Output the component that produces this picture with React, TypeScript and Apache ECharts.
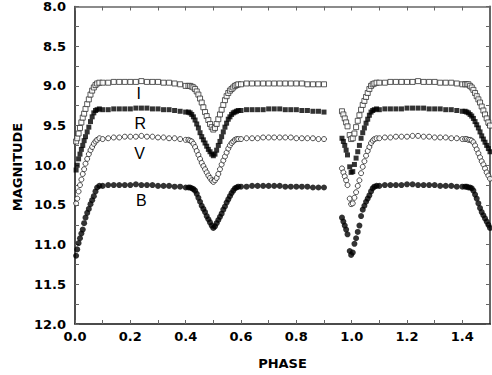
import React, { useEffect, useRef } from "react";
import * as echarts from "echarts";

// Orbital phase of each observation (shared by the four bands)
const PHASE = [
  0.004, 0.008, 0.013, 0.018, 0.023, 0.028, 0.033, 0.038, 0.044, 0.05, 0.056, 0.062, 0.068, 0.074, 0.08, 0.088,
  0.10, 0.12, 0.14, 0.16, 0.18, 0.20, 0.22, 0.24, 0.26, 0.28, 0.30, 0.32, 0.34, 0.36, 0.38, 0.40,
  0.41, 0.416, 0.422, 0.428, 0.434, 0.44, 0.446, 0.452, 0.458, 0.464, 0.47, 0.476, 0.482, 0.488, 0.494, 0.50,
  0.506, 0.512, 0.518, 0.524, 0.53, 0.536, 0.542, 0.548, 0.554, 0.56, 0.566, 0.572, 0.578, 0.584, 0.59,
  0.60, 0.62, 0.64, 0.66, 0.68, 0.70, 0.72, 0.74, 0.76, 0.78, 0.80, 0.82, 0.84, 0.86, 0.88, 0.90,
  0.965, 0.97, 0.975, 0.98, 0.985, 0.993, 0.998, 1.004, 1.01, 1.016, 1.022, 1.028, 1.034, 1.04, 1.046, 1.052,
  1.058, 1.064, 1.07, 1.076, 1.082, 1.09,
  1.10, 1.12, 1.14, 1.16, 1.18, 1.20, 1.22, 1.24, 1.26, 1.28, 1.30, 1.32, 1.34, 1.36, 1.38, 1.40,
  1.41, 1.416, 1.422, 1.428, 1.434, 1.44, 1.446, 1.452, 1.458, 1.464, 1.47, 1.476, 1.482, 1.488, 1.494, 1.50,
];

const MAG_I = [
  9.70, 9.66, 9.60, 9.53, 9.46, 9.40, 9.35, 9.29, 9.23, 9.17, 9.11, 9.06, 9.02, 8.99, 8.97, 8.96,
  8.96, 8.96, 8.95, 8.95, 8.95, 8.95, 8.95, 8.94, 8.95, 8.95, 8.95, 8.96, 8.96, 8.97, 8.98, 9.00,
  9.00, 9.00, 9.01, 9.02, 9.04, 9.07, 9.11, 9.16, 9.21, 9.27, 9.33, 9.38, 9.43, 9.48, 9.52, 9.55,
  9.53, 9.48, 9.42, 9.36, 9.30, 9.24, 9.18, 9.13, 9.09, 9.06, 9.04, 9.02, 9.00, 8.99, 8.98,
  8.98, 8.97, 8.97, 8.97, 8.97, 8.97, 8.97, 8.97, 8.97, 8.97, 8.97, 8.97, 8.98, 8.98, 8.98, 8.98,
  9.32, 9.36, 9.41, 9.46, 9.51, 9.62, 9.67, 9.66, 9.60, 9.52, 9.44, 9.37, 9.30, 9.24, 9.19, 9.14,
  9.09, 9.04, 9.00, 8.98, 8.97, 8.96,
  8.96, 8.96, 8.95, 8.95, 8.95, 8.95, 8.95, 8.94, 8.95, 8.95, 8.95, 8.96, 8.96, 8.96, 8.97, 8.98,
  8.98, 8.98, 8.98, 9.00, 9.02, 9.05, 9.09, 9.13, 9.17, 9.21, 9.26, 9.31, 9.36, 9.41, 9.46, 9.50,
];

const MAG_R = [
  10.06, 10.00, 9.92, 9.86, 9.80, 9.75, 9.69, 9.64, 9.58, 9.52, 9.45, 9.39, 9.34, 9.31, 9.30, 9.29,
  9.30, 9.30, 9.29, 9.29, 9.29, 9.29, 9.28, 9.28, 9.28, 9.29, 9.29, 9.30, 9.30, 9.31, 9.32, 9.33,
  9.33, 9.34, 9.36, 9.39, 9.43, 9.48, 9.53, 9.59, 9.64, 9.68, 9.72, 9.76, 9.80, 9.83, 9.86, 9.88,
  9.86, 9.81, 9.75, 9.70, 9.64, 9.58, 9.52, 9.47, 9.42, 9.39, 9.36, 9.34, 9.33, 9.32, 9.31,
  9.31, 9.30, 9.30, 9.30, 9.30, 9.29, 9.29, 9.29, 9.30, 9.30, 9.30, 9.31, 9.31, 9.32, 9.32, 9.33,
  9.66, 9.70, 9.75, 9.81, 9.87, 10.02, 10.09, 10.08, 9.99, 9.91, 9.83, 9.75, 9.66, 9.59, 9.53, 9.47,
  9.42, 9.37, 9.33, 9.31, 9.30, 9.29,
  9.30, 9.29, 9.29, 9.29, 9.29, 9.28, 9.28, 9.28, 9.28, 9.29, 9.29, 9.29, 9.30, 9.30, 9.31, 9.32,
  9.32, 9.33, 9.34, 9.36, 9.38, 9.41, 9.45, 9.49, 9.53, 9.58, 9.63, 9.67, 9.71, 9.75, 9.79, 9.83,
];

const MAG_V = [
  10.48, 10.42, 10.33, 10.25, 10.18, 10.11, 10.05, 9.98, 9.92, 9.86, 9.81, 9.77, 9.73, 9.70, 9.68, 9.66,
  9.67, 9.66, 9.65, 9.65, 9.64, 9.64, 9.64, 9.63, 9.64, 9.64, 9.65, 9.65, 9.66, 9.66, 9.67, 9.68,
  9.68, 9.69, 9.70, 9.73, 9.77, 9.82, 9.87, 9.92, 9.97, 10.01, 10.05, 10.09, 10.13, 10.16, 10.19, 10.21,
  10.19, 10.16, 10.11, 10.05, 9.99, 9.94, 9.89, 9.84, 9.79, 9.75, 9.72, 9.70, 9.68, 9.67, 9.67,
  9.67, 9.66, 9.66, 9.66, 9.65, 9.65, 9.65, 9.65, 9.65, 9.65, 9.66, 9.66, 9.66, 9.66, 9.67, 9.67,
  10.04, 10.09, 10.14, 10.19, 10.25, 10.42, 10.49, 10.48, 10.41, 10.34, 10.26, 10.19, 10.10, 10.02, 9.95, 9.88,
  9.82, 9.77, 9.72, 9.69, 9.67, 9.66,
  9.66, 9.65, 9.65, 9.64, 9.64, 9.64, 9.63, 9.63, 9.64, 9.64, 9.65, 9.65, 9.65, 9.66, 9.66, 9.67,
  9.67, 9.67, 9.68, 9.68, 9.69, 9.71, 9.75, 9.80, 9.85, 9.90, 9.95, 9.99, 10.04, 10.09, 10.13, 10.17,
];

const MAG_B = [
  11.14, 11.06, 10.98, 10.92, 10.86, 10.81, 10.73, 10.66, 10.60, 10.55, 10.49, 10.44, 10.39, 10.33, 10.28, 10.26,
  10.26, 10.25, 10.25, 10.25, 10.25, 10.25, 10.24, 10.25, 10.25, 10.25, 10.26, 10.26, 10.26, 10.27, 10.27, 10.28,
  10.28, 10.28, 10.29, 10.30, 10.32, 10.36, 10.41, 10.46, 10.51, 10.55, 10.59, 10.64, 10.68, 10.72, 10.76, 10.79,
  10.77, 10.73, 10.69, 10.65, 10.61, 10.56, 10.52, 10.47, 10.43, 10.39, 10.35, 10.32, 10.29, 10.28, 10.27,
  10.27, 10.27, 10.26, 10.26, 10.26, 10.26, 10.26, 10.26, 10.27, 10.27, 10.27, 10.27, 10.27, 10.28, 10.28, 10.28,
  10.66, 10.71, 10.76, 10.81, 10.87, 11.08, 11.13, 11.10, 10.99, 10.92, 10.84, 10.76, 10.64, 10.56, 10.51, 10.46,
  10.42, 10.38, 10.33, 10.29, 10.27, 10.26,
  10.26, 10.25, 10.25, 10.25, 10.25, 10.24, 10.24, 10.25, 10.25, 10.25, 10.25, 10.26, 10.26, 10.26, 10.27, 10.27,
  10.27, 10.27, 10.28, 10.28, 10.29, 10.32, 10.37, 10.42, 10.48, 10.54, 10.59, 10.63, 10.67, 10.71, 10.75, 10.79,
];

// Band labels written inside the plot
const LABEL_TEXT = ["I", "R", "V", "B"];
const LABEL_PHASE = [0.23, 0.236, 0.233, 0.24];
const LABEL_MAG = [9.1, 9.47, 9.85, 10.44];

const X_MIN = 0;
const X_MAX = 1.5;
const Y_MIN = 8;
const Y_MAX = 12;

const FONT = "DejaVu Sans";

function pairs(mags: number[]) {
  return PHASE.map((p, i) => [p, mags[i]]);
}

export default function App() {
  const ref = useRef<HTMLDivElement>(null);

  useEffect(() => {
    if (!ref.current) return;
    const chart = echarts.init(ref.current, undefined, { renderer: "svg" });

    const xLabel = (v: number) =>
      Math.round(v * 10) % 2 === 0 && v < 1.45 ? v.toFixed(1) : "";
    const yLabel = (v: number) =>
      Math.round(v * 4) % 2 === 0 ? v.toFixed(1) : "";

    const tickStyle = { color: "#666", width: 1 };

    const baseX = {
      type: "value" as const,
      min: X_MIN,
      max: X_MAX,
      interval: 0.1,
      splitLine: { show: false },
    };
    const baseY = {
      type: "value" as const,
      min: Y_MIN,
      max: Y_MAX,
      interval: 0.25,
      inverse: true,
      splitLine: { show: false },
    };

    chart.setOption({
      animation: false,
      backgroundColor: "#fff",
      grid: { left: 75, right: 2, top: 5, bottom: 49, containLabel: false },
      xAxis: [
        {
          ...baseX,
          position: "bottom",
          name: "PHASE",
          nameLocation: "middle",
          nameGap: 33,
          nameTextStyle: { fontFamily: FONT, fontSize: 13, fontWeight: "bold", color: "#000" },
          axisLine: { show: true, onZero: false, lineStyle: { color: "#111", width: 1.5 } },
          axisTick: { show: true, inside: true, length: 4, lineStyle: tickStyle },
          axisLabel: {
            show: true,
            formatter: xLabel,
            margin: 6,
            fontFamily: FONT,
            fontSize: 13,
            fontWeight: "bold",
            color: "#000",
            showMaxLabel: false,
          },
        },
        {
          ...baseX,
          position: "top",
          axisLine: { show: true, onZero: false, lineStyle: { color: "#666", width: 1.5 } },
          axisTick: { show: true, inside: true, length: 4, lineStyle: tickStyle },
          axisLabel: { show: false },
        },
      ],
      yAxis: [
        {
          ...baseY,
          position: "left",
          axisLine: { show: true, onZero: false, lineStyle: { color: "#111", width: 1.5 } },
          axisTick: { show: true, inside: true, length: 4, lineStyle: tickStyle },
          axisLabel: {
            show: true,
            formatter: yLabel,
            margin: 9,
            fontFamily: FONT,
            fontSize: 13,
            fontWeight: "bold",
            color: "#000",
          },
        },
        {
          ...baseY,
          position: "right",
          axisLine: { show: true, onZero: false, lineStyle: { color: "#666", width: 2 } },
          axisTick: { show: true, inside: true, length: 4, lineStyle: tickStyle },
          axisLabel: { show: false },
        },
      ],
      series: [
        {
          name: "I",
          type: "scatter",
          symbol: "rect",
          symbolSize: 5,
          data: pairs(MAG_I),
          itemStyle: { color: "#fff", borderColor: "#333", borderWidth: 1 },
          z: 4,
        },
        {
          name: "R",
          type: "scatter",
          symbol: "rect",
          symbolSize: 5,
          data: pairs(MAG_R),
          itemStyle: { color: "#000" },
          z: 3,
        },
        {
          name: "V",
          type: "scatter",
          symbol: "circle",
          symbolSize: 5,
          data: pairs(MAG_V),
          itemStyle: { color: "#fff", borderColor: "#222", borderWidth: 1 },
          z: 2,
        },
        {
          name: "B",
          type: "scatter",
          symbol: "circle",
          symbolSize: 6,
          data: pairs(MAG_B),
          itemStyle: { color: "#000" },
          z: 1,
        },
      ],
    });

    // Band labels placed through the chart's own coordinate system
    const labelGraphics = LABEL_TEXT.map((t, i) => {
      const pt = chart.convertToPixel({ gridIndex: 0 }, [LABEL_PHASE[i], LABEL_MAG[i]]) as number[];
      return {
        type: "text",
        x: pt[0],
        y: pt[1],
        z: 10,
        style: {
          text: t,
          fontFamily: "Liberation Sans",
          fontSize: 16,
          fill: "#000",
          align: "center",
          verticalAlign: "middle",
        },
      };
    });

    chart.setOption({
      graphic: [
        {
          type: "text",
          x: 17,
          y: 167,
          rotation: Math.PI / 2,
          style: {
            text: "MAGNITUDE",
            fontFamily: FONT,
            fontSize: 13,
            fontWeight: "bold",
            fill: "#000",
            align: "center",
            verticalAlign: "middle",
          },
        },
        ...labelGraphics,
      ],
    });

    return () => chart.dispose();
  }, []);

  return (
    <div
      ref={ref}
      style={{ position: "fixed", left: 0, top: 0, width: 492, height: 375 }}
    />
  );
}
